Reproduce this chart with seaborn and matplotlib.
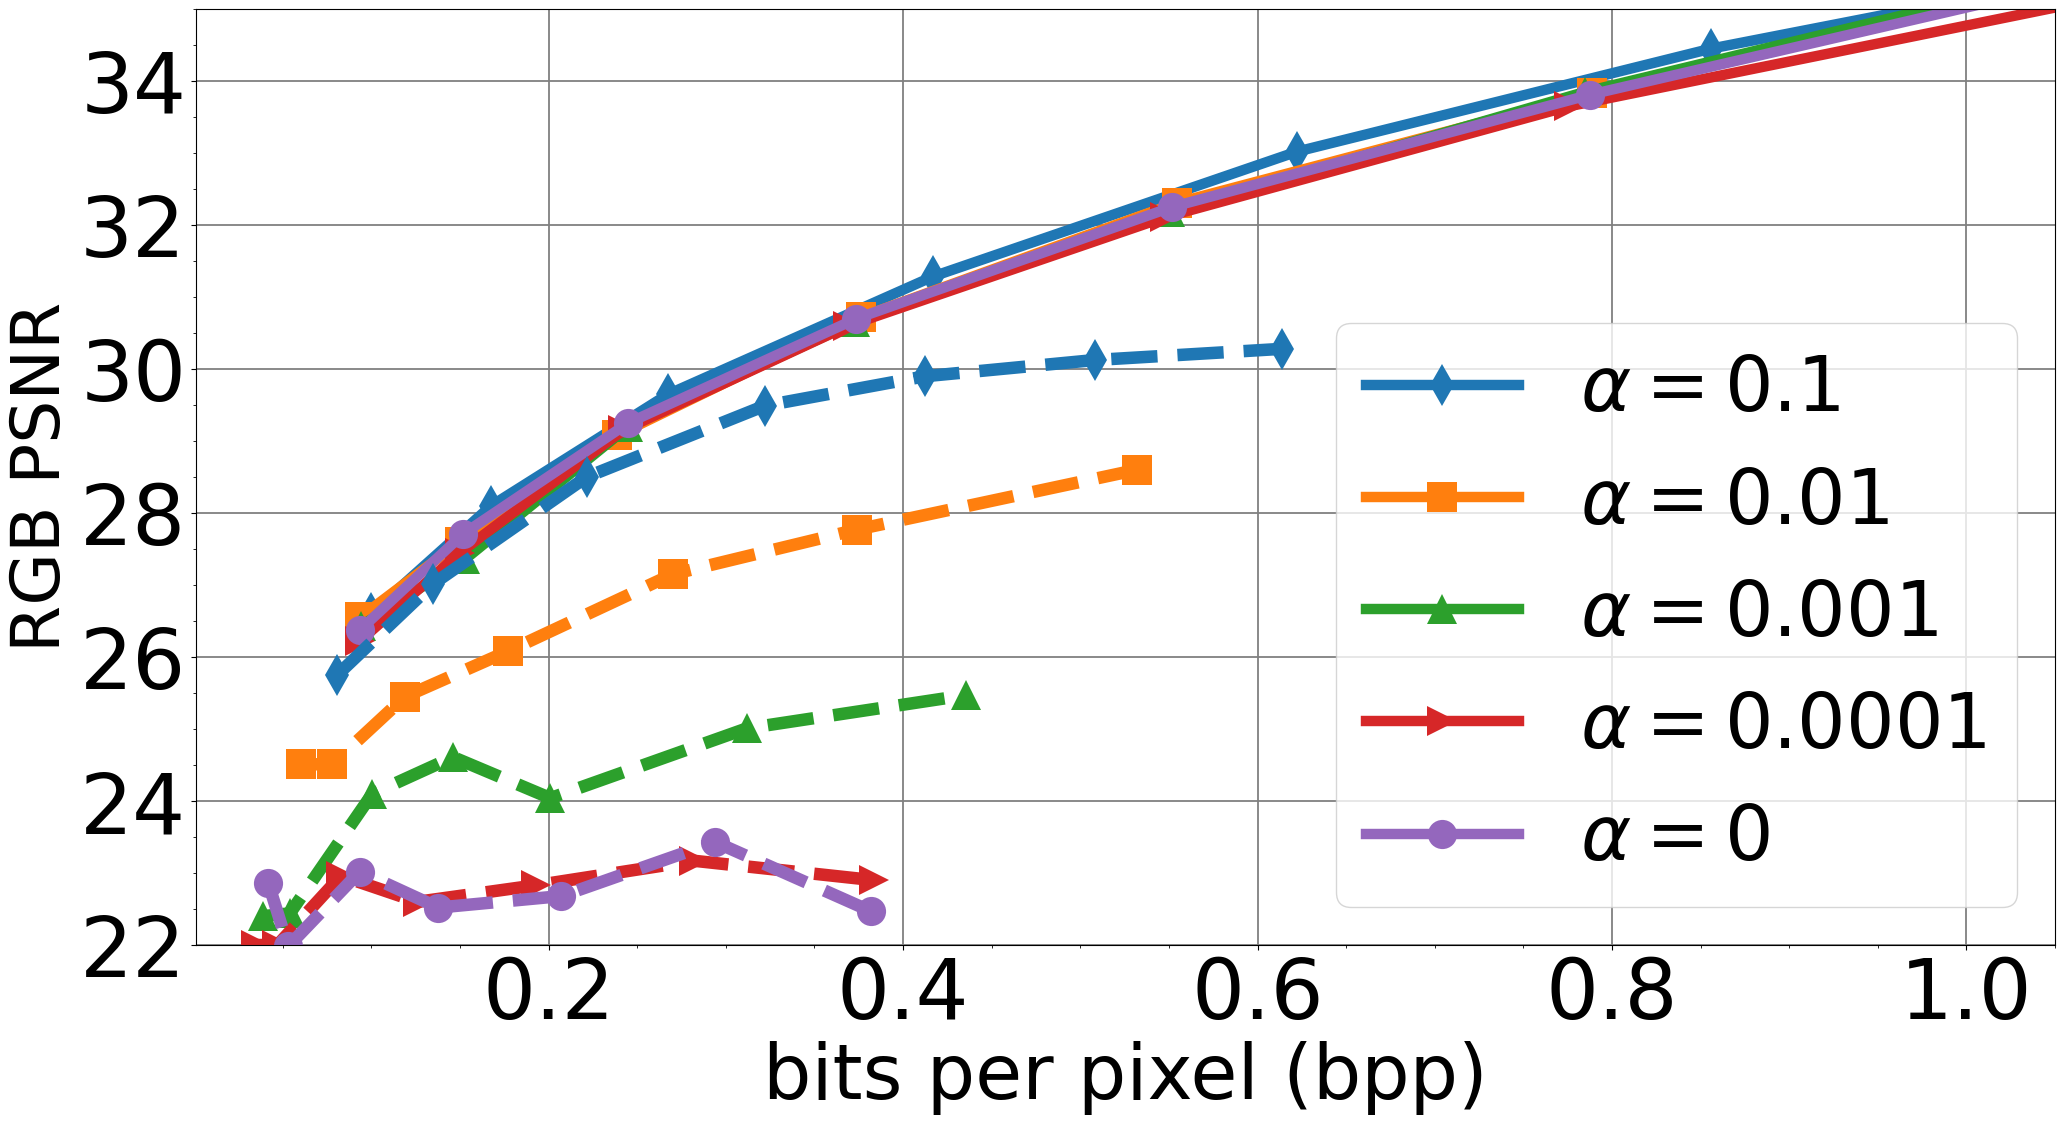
import matplotlib
matplotlib.use("Agg")
import matplotlib.pyplot as plt
from matplotlib.ticker import MultipleLocator
import seaborn as sns

# legend labels, markers and colours (one per alpha)
labels = [r'$\alpha = 0.1$', r'$\alpha = 0.01$', r'$\alpha = 0.001$',
          r'$\alpha = 0.0001$', r'$\alpha = 0$']
markers = ['d', 's', '^', '>', 'o']
colors = sns.color_palette("tab10")[:5]

# solid curves (bpp, RGB PSNR); last point lies outside the view
solid_bpp_01 = [0.100, 0.1675, 0.2674, 0.4169, 0.6224, 0.856, 1.15]
solid_psnr_01 = [26.61, 28.10, 29.65, 31.285, 33.02, 34.45, 35.86]
solid_bpp_001 = [0.0935, 0.150, 0.2388, 0.376, 0.5546, 0.7885, 1.10]
solid_psnr_001 = [26.55, 27.60, 29.08, 30.72, 32.31, 33.83, 35.68]
solid_bpp_0001 = [0.094, 0.153, 0.245, 0.373, 0.5504, 0.785, 1.10]
solid_psnr_0001 = [26.43, 27.36, 29.20, 30.65, 32.18, 33.85, 35.72]
solid_bpp_00001 = [0.0934, 0.150, 0.242, 0.369, 0.548, 0.776, 1.10]
solid_psnr_00001 = [26.22, 27.45, 29.15, 30.60, 32.11, 33.65, 35.27]
solid_bpp_0 = [0.0935, 0.1518, 0.2449, 0.3737, 0.5518, 0.7877, 1.10]
solid_psnr_0 = [26.375, 27.71, 29.25, 30.70, 32.25, 33.81, 35.59]

# dashed curves
dashed_bpp_01 = [0.0807, 0.1345, 0.2214, 0.322, 0.4126, 0.5083, 0.6138]
dashed_psnr_01 = [25.75, 27.01, 28.50, 29.49, 29.90, 30.125, 30.28]
dashed_bpp_001 = [0.060, 0.0778, 0.119, 0.177, 0.270, 0.374, 0.532]
dashed_psnr_001 = [24.51, 24.51, 25.45, 26.08, 27.15, 27.77, 28.60]
dashed_bpp_0001 = [0.0388, 0.054, 0.1005, 0.146, 0.201, 0.312, 0.4355]
dashed_psnr_0001 = [22.40, 22.44, 24.10, 24.61, 24.04, 25.01, 25.47]
dashed_bpp_00001 = [0.035, 0.047, 0.0828, 0.126, 0.193, 0.282, 0.3836]
dashed_psnr_00001 = [22.0, 22.0, 22.96, 22.60, 22.83, 23.17, 22.90]
dashed_bpp_0 = [0.0418, 0.053, 0.0935, 0.1377, 0.2072, 0.294, 0.3818]
dashed_psnr_0 = [22.86, 21.98, 23.02, 22.52, 22.68, 23.43, 22.47]

solid = [(solid_bpp_01, solid_psnr_01), (solid_bpp_001, solid_psnr_001),
         (solid_bpp_0001, solid_psnr_0001), (solid_bpp_00001, solid_psnr_00001),
         (solid_bpp_0, solid_psnr_0)]
dashed = [(dashed_bpp_01, dashed_psnr_01), (dashed_bpp_001, dashed_psnr_001),
          (dashed_bpp_0001, dashed_psnr_0001), (dashed_bpp_00001, dashed_psnr_00001),
          (dashed_bpp_0, dashed_psnr_0)]

LW = 7.5
LW_DASH = 9
MS = 21

fig, ax = plt.subplots(figsize=(20.65, 11.23), dpi=100)
fig.subplots_adjust(left=0.0949, right=0.9952, top=0.992, bottom=0.1585)

handles = []
for (x, y), c, m, lab in zip(solid, colors, markers, labels):
    sns.lineplot(x=x, y=y, ax=ax, color=c, marker=m, markersize=MS,
                 markeredgewidth=0, linewidth=LW, label=lab, sort=False)
    handles.append(ax.lines[-1])

for (x, y), c, m in zip(dashed, colors, markers):
    sns.lineplot(x=x, y=y, ax=ax, color=c, marker=m, markersize=MS,
                 markeredgewidth=0, linewidth=LW_DASH, linestyle='--', sort=False)

ax.set_xlim(0.001, 1.05)
ax.set_ylim(22, 35)
ax.xaxis.set_major_locator(MultipleLocator(0.2))
ax.xaxis.set_minor_locator(MultipleLocator(0.05))
ax.yaxis.set_major_locator(MultipleLocator(2))
ax.yaxis.set_minor_locator(MultipleLocator(0.5))
ax.grid(True, which='major', color='gray', linewidth=1.3)
ax.tick_params(axis='both', which='major', labelsize=60)

ax.set_xlabel('bits per pixel (bpp)', fontsize=55)
ax.set_ylabel('RGB PSNR', fontsize=49)

ax.legend(handles=handles, labels=labels, loc='lower right', fontsize=55)

plt.savefig('out.png', dpi=100)
